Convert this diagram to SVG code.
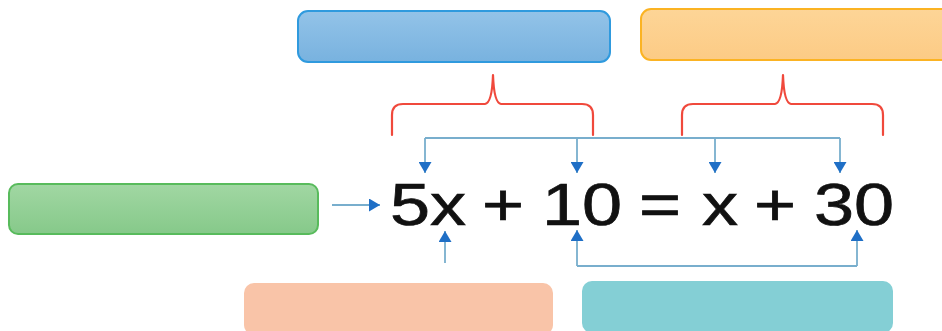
<svg xmlns="http://www.w3.org/2000/svg" width="942" height="331" viewBox="0 0 942 331">
<style>
.box{stroke-width:2}
.brace{fill:none;stroke:#f0493c;stroke-width:2.2;stroke-linecap:round;stroke-linejoin:round}
.conn{fill:none;stroke:#78aecd;stroke-width:1.8}
.arr{fill:none;stroke:#78aecd;stroke-width:1.8;marker-end:url(#ah)}
.eq{font-family:"Liberation Sans",Arial,sans-serif;font-size:60px;fill:#111;stroke:#111;stroke-width:0.7}
</style>
<defs>
<marker id="ah" markerUnits="userSpaceOnUse" markerWidth="13" markerHeight="13" refX="11" refY="6.5" orient="auto">
<path d="M0,0 L11,6.5 L0,13 z" fill="#1f6fc6"/>
</marker>
<linearGradient id="gBlue" x1="0" y1="0" x2="0" y2="1"><stop offset="0" stop-color="#93c3e8"/><stop offset="1" stop-color="#78b2df"/></linearGradient>
<linearGradient id="gOrange" x1="0" y1="0" x2="0" y2="1"><stop offset="0" stop-color="#fdd597"/><stop offset="1" stop-color="#fccb85"/></linearGradient>
<linearGradient id="gGreen" x1="0" y1="0" x2="0" y2="1"><stop offset="0" stop-color="#a1d7a3"/><stop offset="1" stop-color="#86c98a"/></linearGradient>
</defs>
<rect width="942" height="331" fill="#ffffff"/>
<g id="box-blue"><rect class="box" x="298" y="11" width="312" height="51" rx="10" fill="url(#gBlue)" stroke="#2f9ade"/></g>
<g id="box-orange"><rect class="box" x="641" y="9" width="310" height="51" rx="10" fill="url(#gOrange)" stroke="#fbb323"/></g>
<g id="box-green"><rect class="box" x="9" y="184" width="309" height="50" rx="9" fill="url(#gGreen)" stroke="#58bb5c"/></g>
<g id="box-peach"><rect x="244" y="283" width="309" height="52" rx="10" fill="#f9c4a8"/></g>
<g id="box-teal"><rect x="582" y="281" width="311" height="52" rx="10" fill="#84cfd5"/></g>
<g id="equation">
<text class="eq" transform="scale(1.2,1)" y="225"><tspan x="325">5x </tspan><tspan x="401.7">+ </tspan><tspan x="451.7">10 </tspan><tspan x="532.5">= </tspan><tspan x="585">x </tspan><tspan x="628.3">+ </tspan><tspan x="678.3">30</tspan></text>
</g>
<g id="connectors">
<path class="brace" d="M392,135 V115 Q392,104 403,104 L485,104 Q492,103 493,75 Q494,103 501,104 L582,104 Q593,104 593,115 V135"/>
<path class="brace" d="M682,135 V115 Q682,104 693,104 L775,104 Q782,103 783,75 Q784,103 791,104 L872,104 Q883,104 883,115 V135"/>
<path class="conn" d="M425,138 H840"/>
<path class="arr" d="M425,138 V173"/>
<path class="arr" d="M577,138 V173"/>
<path class="arr" d="M715,138 V173"/>
<path class="arr" d="M840,138 V173"/>
<path class="conn" d="M577,266 H857"/>
<path class="arr" d="M577,266 V230"/>
<path class="arr" d="M857,266 V230"/>
<path class="arr" d="M445,263 V231"/>
<path class="arr" d="M332,205 H380"/>
</g>
</svg>
